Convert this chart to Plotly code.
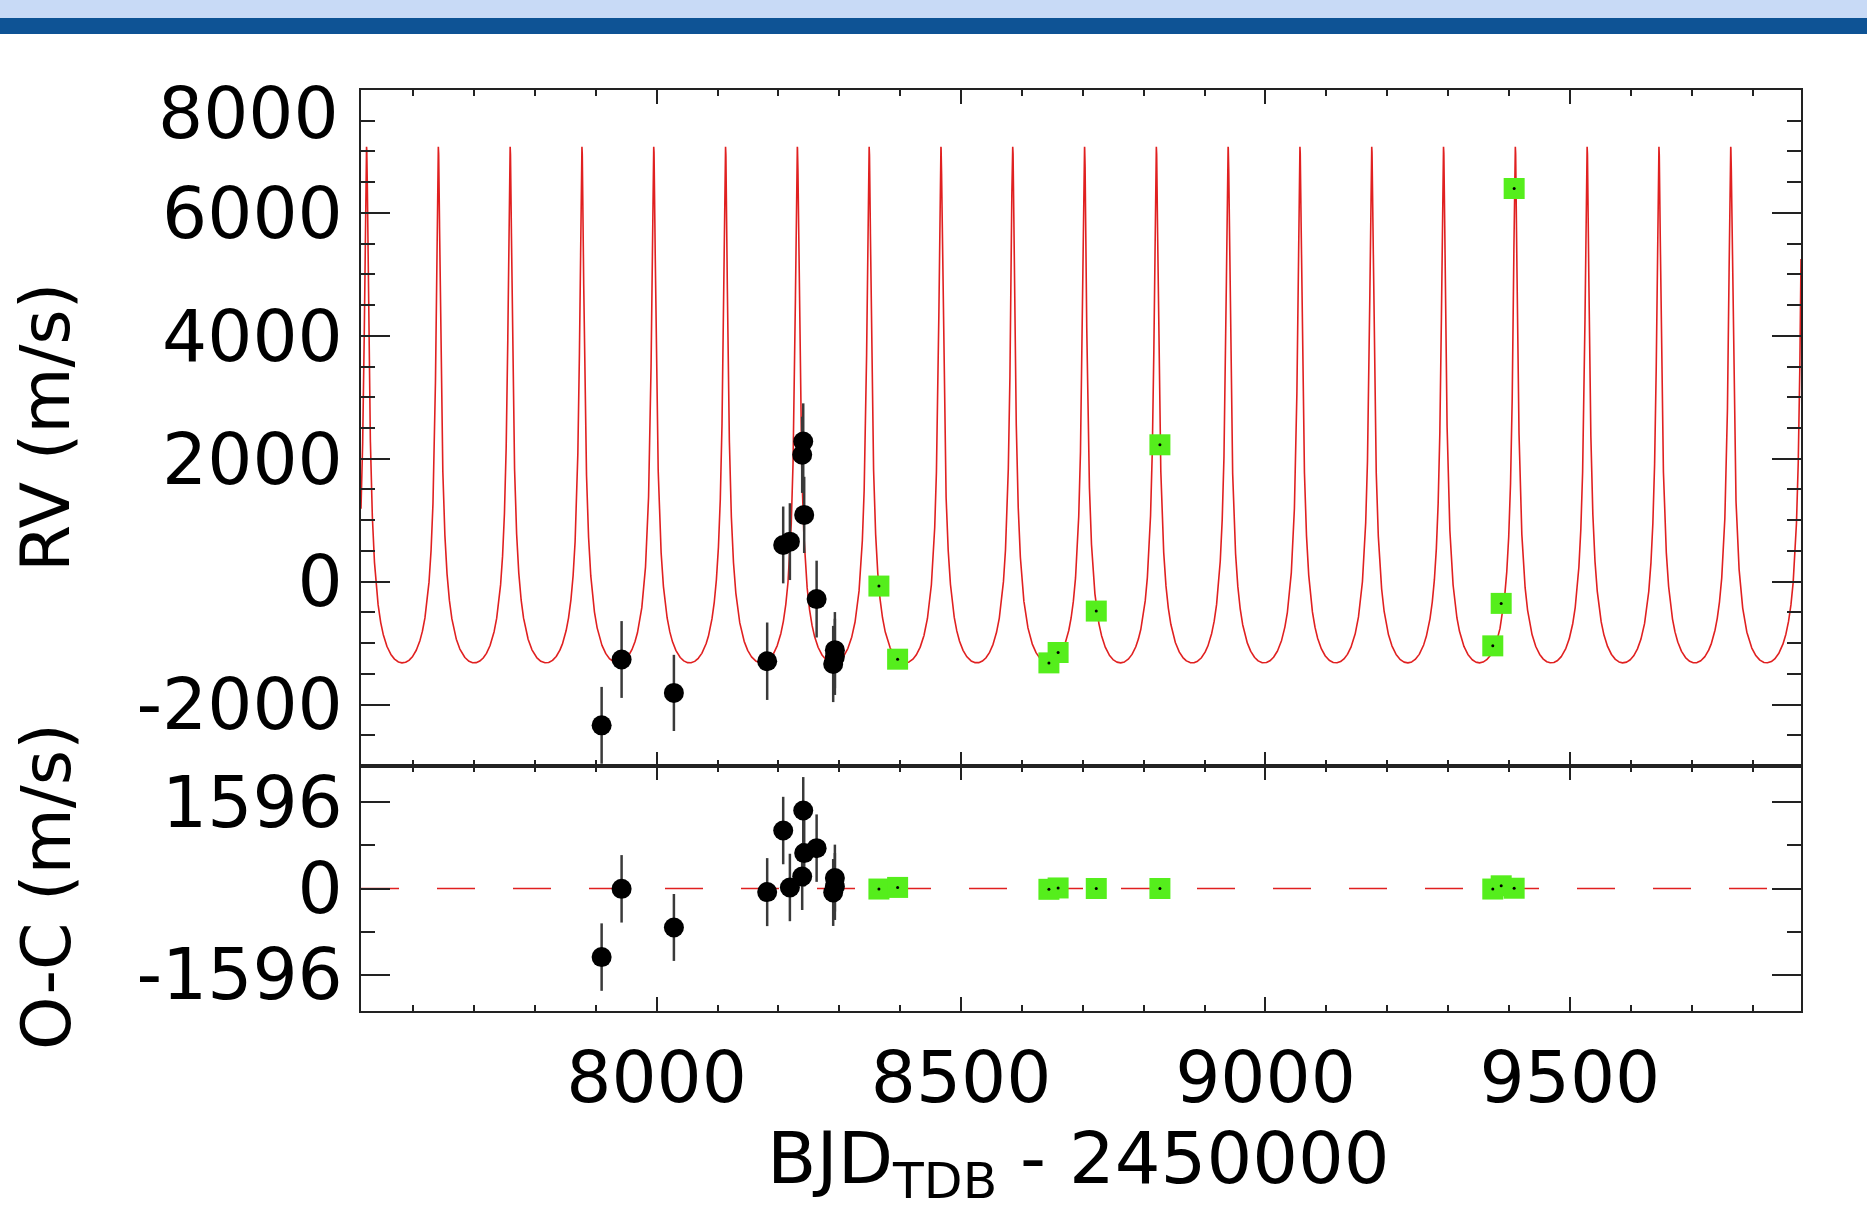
import numpy as np
import plotly.graph_objects as go

# ---------------- data ----------------
# black points (with error bars)
t_black = [7909.7, 7942.5, 8028.4, 8181.6, 8207.9, 8218.9, 8239.1, 8240.8, 8242.4, 8262.8, 8292.8, 8292.8, 8290.0]
rv_black = [-2338, -1267, -1811, -1295, 597, 651, 2064, 2281, 1086, -284, -1115, -1224, -1340]
rv_black_err = [625, 625, 620, 630, 625, 625, 620, 620, 620, 625, 620, 620, 620]
oc_black = [-1271, -6, -722, -67, 1074, 19, 222, 1445, 656, 748, 193, 37, -74]
oc_black_err = [625, 625, 620, 630, 625, 625, 620, 620, 620, 625, 620, 620, 620]

# green squares
t_green = [8365.1, 8395.8, 8644.3, 8659.4, 8722.1, 8826.6, 9373.3, 9387.1, 9408.4]
rv_green = [-72, -1262, -1322, -1153, -479, 2227, -1045, -354, 6397]
oc_green = [-10, 20, -15, 10, 0, 0, -10, 50, 5]

# Keplerian model parameters
period = 117.92        # days between peaks
t_peri = 7523.6        # time of first peak
ecc = 0.71
omega_deg = 0.0
K_amp = 4199.0
gamma = -104.0

x_range = [7514.5, 9879.5]
rv_range = [-3000, 8000]
oc_range = [-2270, 2270]

x_tickvals = [8000, 8500, 9000, 9500]
x_ticktext = ["8000", "8500", "9000", "9500"]
rv_tickvals = [-2000, 0, 2000, 4000, 6000, 8000]
rv_ticktext = ["-2000", "0", "2000", "4000", "6000", "8000"]
oc_tickvals = [-1596, 0, 1596]
oc_ticktext = ["-1596", "0", "1596"]

# ---------------- model curve ----------------
t_model = np.linspace(x_range[0], x_range[1], 40000)
M = 2 * np.pi * (t_model - t_peri) / period
M = (M + np.pi) % (2 * np.pi) - np.pi
E = M + ecc * np.sin(M)
for _ in range(60):
    E = E - (E - ecc * np.sin(E) - M) / (1 - ecc * np.cos(E))
nu = 2 * np.arctan2(np.sqrt(1 + ecc) * np.sin(E / 2), np.sqrt(1 - ecc) * np.cos(E / 2))
w = np.deg2rad(omega_deg)
rv_model = gamma + K_amp * (np.cos(nu + w) + ecc * np.cos(w))

RED = "#E02020"
GREEN = "#55EE1C"
AXC = "#222222"
FONT = "DejaVu Sans"
TICKSIZE = 71
TITLESIZE = 68

fig = go.Figure()

# top panel
fig.add_trace(go.Scatter(x=t_model, y=rv_model, mode="lines",
                         line=dict(color=RED, width=1.6), xaxis="x", yaxis="y",
                         hoverinfo="skip"))
fig.add_trace(go.Scatter(x=t_black, y=rv_black, mode="markers",
                         marker=dict(color="black", size=20),
                         error_y=dict(type="data", array=rv_black_err, color="#3a3a3a",
                                      thickness=2.5, width=0),
                         xaxis="x", yaxis="y"))
fig.add_trace(go.Scatter(x=t_green, y=rv_green, mode="markers",
                         marker=dict(color=GREEN, size=21, symbol="square", line=dict(width=0)),
                         xaxis="x", yaxis="y"))
fig.add_trace(go.Scatter(x=t_green, y=rv_green, mode="markers",
                         marker=dict(color="black", size=3),
                         xaxis="x", yaxis="y"))

# residual panel
fig.add_trace(go.Scatter(x=x_range, y=[0, 0], mode="lines",
                         line=dict(color=RED, width=1.6, dash="38px,38px"),
                         xaxis="x2", yaxis="y2"))
fig.add_trace(go.Scatter(x=t_black, y=oc_black, mode="markers",
                         marker=dict(color="black", size=20),
                         error_y=dict(type="data", array=oc_black_err, color="#3a3a3a",
                                      thickness=2.5, width=0),
                         xaxis="x2", yaxis="y2"))
fig.add_trace(go.Scatter(x=t_green, y=oc_green, mode="markers",
                         marker=dict(color=GREEN, size=21, symbol="square", line=dict(width=0)),
                         xaxis="x2", yaxis="y2"))
fig.add_trace(go.Scatter(x=t_green, y=oc_green, mode="markers",
                         marker=dict(color="black", size=3),
                         xaxis="x2", yaxis="y2"))

W, H = 1867, 1218
L, R, T, B = 361, 66, 90, 207
ph = H - T - B
pw = W - L - R
split = 245 / ph


def px_y(py):
    return (H - B - py) / ph


def px_x(px):
    return (px - L) / pw


common = dict(showline=True, linecolor=AXC, linewidth=2, mirror="ticks",
              ticks="inside", tickcolor=AXC, tickwidth=2, showgrid=False,
              zeroline=False, tickfont=dict(family=FONT, size=TICKSIZE, color="black"))

xcommon = dict(common, range=x_range, tickmode="array", tickvals=x_tickvals,
               ticktext=x_ticktext, ticklen=14,
               minor=dict(ticks="inside", dtick=100, tick0=0, ticklen=6,
                          tickwidth=2, tickcolor=AXC, showgrid=False))

# the top RV label (8000) sits slightly below its tick (which merges with the
# top frame line) in the reference, so it is drawn as a separate text
fig.update_layout(
    width=W, height=H,
    margin=dict(l=L, r=R, t=T, b=B),
    paper_bgcolor="white", plot_bgcolor="white",
    showlegend=False,
    xaxis=dict(xcommon, domain=[0, 1], anchor="y", showticklabels=False, matches="x2"),
    xaxis2=dict(xcommon, domain=[0, 1], anchor="y2", showticklabels=True,
                ticklabelstandoff=4),
    yaxis=dict(common, domain=[split, 1], anchor="x", range=rv_range,
               tickmode="array", tickvals=rv_tickvals[:-1], ticktext=rv_ticktext[:-1],
               ticklen=29, ticklabelstandoff=2,
               minor=dict(ticks="inside", dtick=500, tick0=0, ticklen=14,
                          tickwidth=2, tickcolor=AXC, showgrid=False)),
    yaxis2=dict(common, domain=[0, split], anchor="x2", range=oc_range,
                tickmode="array", tickvals=oc_tickvals, ticktext=oc_ticktext,
                ticklen=29, ticklabelstandoff=2,
                minor=dict(ticks="inside", dtick=798, tick0=0, ticklen=14,
                           tickwidth=2, tickcolor=AXC, showgrid=False)),
    shapes=[
        dict(type="rect", xref="paper", yref="paper", x0=px_x(0), x1=px_x(W),
             y0=px_y(18), y1=px_y(0), fillcolor="#C8DAF6", line=dict(width=0), layer="below"),
        dict(type="rect", xref="paper", yref="paper", x0=px_x(0), x1=px_x(W),
             y0=px_y(34), y1=px_y(18), fillcolor="#0E5395", line=dict(width=0), layer="below"),
    ],
    annotations=[
        dict(text=rv_ticktext[-1], xref="paper", yref="paper",
             x=px_x(341), y=px_y(113), xanchor="right", yanchor="middle",
             showarrow=False, font=dict(family=FONT, size=TICKSIZE, color="black")),
        dict(text="RV (m/s)", textangle=-90, xref="paper", yref="paper",
             x=px_x(45), y=px_y(428), xanchor="center", yanchor="middle",
             showarrow=False, font=dict(family=FONT, size=TITLESIZE, color="black")),
        dict(text="O-C (m/s)", textangle=-90, xref="paper", yref="paper",
             x=px_x(46), y=px_y(887), xanchor="center", yanchor="middle",
             showarrow=False, font=dict(family=FONT, size=TITLESIZE, color="black")),
        dict(text="BJD<sub>TDB</sub> - 2450000", xref="paper", yref="paper",
             x=px_x(1078), y=px_y(1163), xanchor="center", yanchor="middle",
             showarrow=False, font=dict(family=FONT, size=72, color="black")),
    ],
)

fig.write_html("out.html", config={"displayModeBar": False},
               post_script="document.body.style.margin='0';")
